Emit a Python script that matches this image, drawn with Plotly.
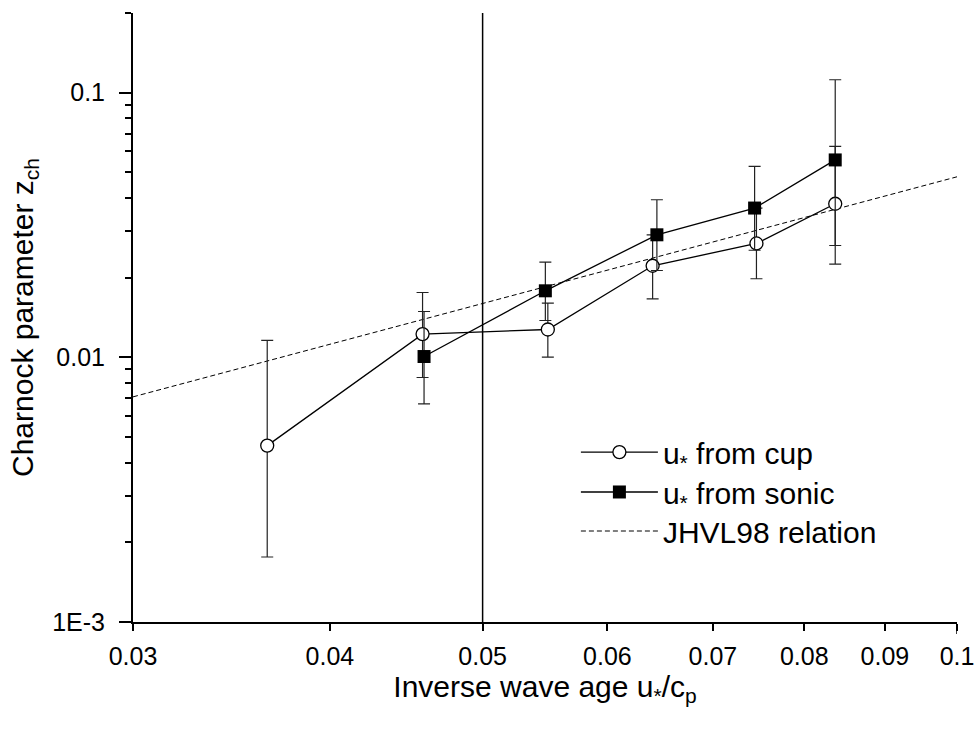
import plotly.graph_objects as go

# ---- data ----
cup_x = [0.0365, 0.0458, 0.0550, 0.0641, 0.0746, 0.0837]
cup_y = [0.00464, 0.01224, 0.01274, 0.02218, 0.02693, 0.03804]
cup_hi = [0.0116, 0.01758, 0.01603, 0.02904, 0.03661, 0.06266]
cup_lo = [0.00176, 0.00839, 0.01002, 0.01664, 0.01981, 0.02251]

sonic_x = [0.0459, 0.0548, 0.0645, 0.0744, 0.0837]
sonic_y = [0.01007, 0.01784, 0.02904, 0.03665, 0.0557]
sonic_hi = [0.0149, 0.02291, 0.03939, 0.05266, 0.1119]
sonic_lo = [0.00667, 0.01378, 0.02129, 0.02539, 0.02646]

jhvl_x = [0.03, 0.1]
jhvl_y = [0.00709, 0.0481]

vline_x = 0.05

x_tickvals = [0.03, 0.04, 0.05, 0.06, 0.07, 0.08, 0.09, 0.1]
x_ticktext = ["0.03", "0.04", "0.05", "0.06", "0.07", "0.08", "0.09", "0.1"]
y_tickvals = [0.001, 0.01, 0.1]
y_ticktext = ["1E-3", "0.01", "0.1"]
y_minor = [m * d for d in (0.001, 0.01) for m in range(2, 10)] + [0.2]

FONT = "Liberation Sans, Arial, sans-serif"

fig = go.Figure()

fig.add_trace(go.Scatter(
    x=jhvl_x, y=jhvl_y, mode="lines", name="JHVL98 relation",
    line=dict(color="black", width=1, dash="5px,3px"),
    legend="legend3",
))

fig.add_trace(go.Scatter(
    x=cup_x, y=cup_y, mode="lines+markers", name="u<sub>*</sub> from cup",
    line=dict(color="black", width=1.3),
    marker=dict(symbol="circle", size=13, color="white",
                line=dict(color="black", width=1.3)),
    error_y=dict(type="data", symmetric=False,
                 array=[h - v for h, v in zip(cup_hi, cup_y)],
                 arrayminus=[v - l for v, l in zip(cup_y, cup_lo)],
                 color="#222", thickness=1.2, width=6),
    legend="legend",
))

fig.add_trace(go.Scatter(
    x=sonic_x, y=sonic_y, mode="lines+markers", name="u<sub>*</sub> from sonic",
    line=dict(color="black", width=1.3),
    marker=dict(symbol="square", size=13, color="black",
                line=dict(color="black", width=0)),
    error_y=dict(type="data", symmetric=False,
                 array=[h - v for h, v in zip(sonic_hi, sonic_y)],
                 arrayminus=[v - l for v, l in zip(sonic_y, sonic_lo)],
                 color="#222", thickness=1.2, width=6),
    legend="legend2",
))

fig.add_shape(type="line", xref="x", yref="paper", x0=vline_x, x1=vline_x,
              y0=0, y1=1, line=dict(color="black", width=1.5))
# longer major tick at 0.1 on the x axis
fig.add_shape(type="line", xref="x", yref="paper", x0=0.1, x1=0.1,
              ysizemode="pixel", yanchor=0, y0=0, y1=-12,
              line=dict(color="black", width=1.5))

leg_common = dict(x=0.5375, xanchor="left", yanchor="middle",
                  font=dict(size=30, family=FONT), bgcolor="rgba(0,0,0,0)",
                  itemwidth=77)

fig.update_layout(
    width=975, height=731,
    margin=dict(l=133, r=18, t=13, b=109, autoexpand=False),
    paper_bgcolor="white", plot_bgcolor="white",
    font=dict(family=FONT, color="black", size=25),
    showlegend=True,
    legend=dict(y=0.279, **leg_common),
    legend2=dict(y=0.2135, **leg_common),
    legend3=dict(y=0.1494, **leg_common),
)

fig.update_xaxes(
    type="log", range=[-1.5228787, -1.0], automargin=False,
    tickvals=x_tickvals, ticktext=x_ticktext,
    ticks="outside", ticklen=7, tickwidth=1.5, tickcolor="black",
    showline=True, linewidth=2, linecolor="black",
    showgrid=False, zeroline=False,
    tickfont=dict(size=25), ticklabelstandoff=4,
    title=dict(text="Inverse wave age u<sub>*</sub>/c<sub>p</sub>",
               font=dict(size=30), standoff=4),
)
fig.update_yaxes(
    type="log", range=[-3.0, -0.69897], automargin=False,
    tickvals=y_tickvals, ticktext=y_ticktext,
    ticks="outside", ticklen=12, tickwidth=1.5, tickcolor="black",
    minor=dict(tickvals=y_minor, ticks="outside", ticklen=6,
               tickwidth=1.5, tickcolor="black", showgrid=False),
    showline=True, linewidth=2, linecolor="black",
    showgrid=False, zeroline=False,
    tickfont=dict(size=25), ticklabelstandoff=9,
    title=dict(text="Charnock parameter z<sub>ch</sub>",
               font=dict(size=30), standoff=10),
)

fig.write_html("out.html")
